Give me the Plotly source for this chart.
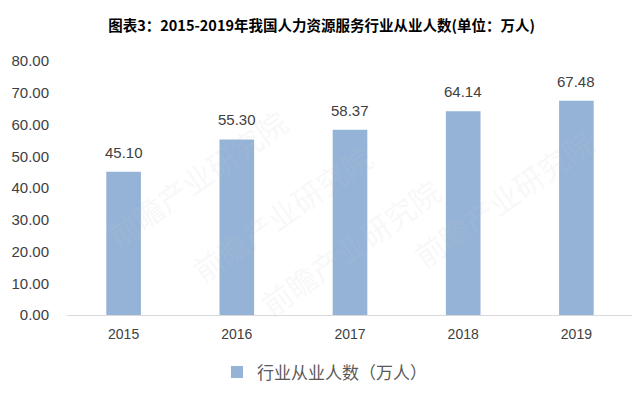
import plotly.graph_objects as go

years = ["2015", "2016", "2017", "2018", "2019"]
values = [45.10, 55.30, 58.37, 64.14, 67.48]
series_name = "行业从业人数（万人）"
title = "图表3：2015-2019年我国人力资源服务行业从业人数(单位：万人)"
y_ticks = [0, 10, 20, 30, 40, 50, 60, 70, 80]
watermark = "前瞻产业研究院"

fig = go.Figure()
fig.add_trace(go.Bar(
    x=years, y=values, name=series_name,
    marker=dict(color="#95B3D7", line=dict(width=0)),
    width=0.306,
))
for i, v in enumerate(values):
    fig.add_annotation(x=i, y=v, xref="x", yref="y", text=f"{v:.2f}", showarrow=False,
                       yanchor="bottom", yshift=9,
                       font=dict(family="Liberation Sans, Arial", size=15, color="#404040"))
for (wx, wy) in [(0.38, 0.72), (0.05, 0.22), (0.95, 0.78), (0.5, -0.05)]:
    fig.add_annotation(text=watermark, xref="paper", yref="paper", x=wx, y=wy,
                       showarrow=False, textangle=-35,
                       font=dict(family="Noto Sans CJK SC", size=30, color="rgba(200,200,200,0.15)"))
fig.update_layout(
    width=640, height=399,
    margin=dict(l=59, r=15, t=53, b=92),
    paper_bgcolor="white", plot_bgcolor="white",
    title=dict(text=f"<b>{title}</b>", x=0.49, xanchor="center", y=0.955, yanchor="middle",
               font=dict(family="Noto Sans CJK SC", size=14.5, color="#000000")),
    showlegend=True,
    legend=dict(orientation="h", x=0.265, xanchor="left", y=-0.155, yanchor="top",
                font=dict(family="Noto Sans CJK SC", size=17, color="#595959")),
    bargap=0.67,
)
fig.update_xaxes(type="category", range=[-0.5, len(years) - 0.5], automargin=False,
                 showgrid=False, showline=True, linecolor="#D9D9D9", linewidth=1,
                 ticks="", ticklabelstandoff=6,
                 tickfont=dict(family="Liberation Sans, Arial", size=14, color="#404040"))
fig.update_yaxes(range=[0, 80], tickvals=y_ticks, ticktext=[f"{v:.2f}" for v in y_ticks],
                 automargin=False,
                 showgrid=False, zeroline=False, showline=False, ticklabelstandoff=17,
                 tickfont=dict(family="Liberation Sans, Arial", size=15, color="#404040"))
fig.write_html("out.html")
